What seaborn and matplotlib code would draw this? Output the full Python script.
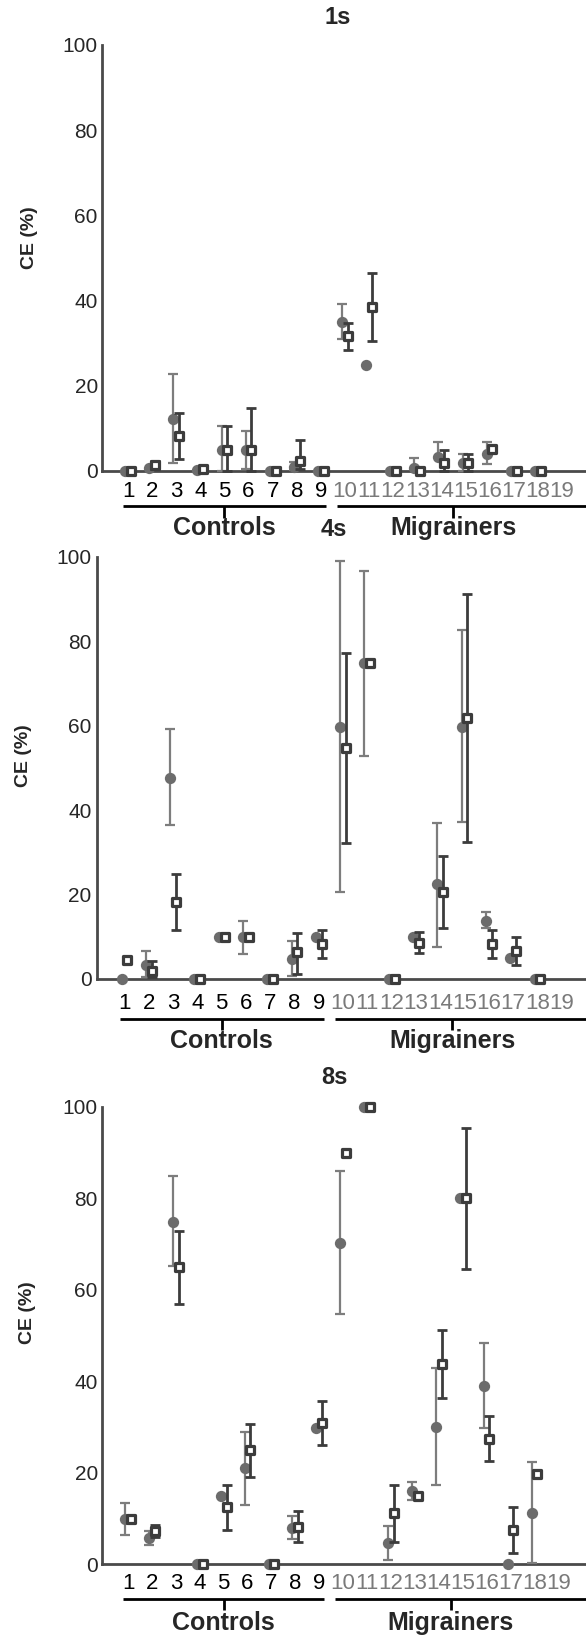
import numpy as np
import pandas as pd
import matplotlib
matplotlib.use("Agg")
import matplotlib.pyplot as plt
import matplotlib.transforms as mtransforms
import seaborn as sns

nan = np.nan

# ---------------- data ----------------
subjects = list(range(1, 20))
tick_labels = [str(s) for s in subjects]
groups = ["Controls", "Migrainers"]
titles = ["1s", "4s", "8s"]
y_ticks = [0, 20, 40, 60, 80, 100]

# 1s
c1 = [0, 0.6, 12.2, 0.3, 4.9, 5.0, 0, 0.9, 0, 34.9, 24.9, 0, 0.6, 3.4, 1.8, 4.1, 0, 0, nan]
c1_lo = [nan, nan, 1.8, nan, 0, 0.5, nan, 0.2, nan, 31.0, nan, nan, 0.6, 3.4, 0, 1.6, nan, nan, nan]
c1_hi = [nan, nan, 22.8, nan, 10.6, 9.5, nan, 2.2, nan, 39.2, nan, nan, 3.0, 6.8, 4.1, 6.7, nan, nan, nan]
s1 = [0, 1.5, 8.2, 0.4, 5.0, 5.0, 0, 2.4, 0, 31.8, 38.4, 0, 0, 1.8, 1.8, 5.1, 0, 0, nan]
s1_lo = [nan, 0.5, 2.9, nan, 0, 0, nan, 0.5, nan, 28.4, 30.5, nan, nan, 0, 0, nan, nan, nan, nan]
s1_hi = [nan, 2.4, 13.5, nan, 10.6, 14.7, nan, 7.2, nan, 34.7, 46.4, nan, nan, 4.9, 4.1, nan, nan, nan, nan]

# 4s
c4 = [0, 3.2, 47.7, 0, 9.9, 9.9, 0, 4.7, 10.0, 59.8, 75.0, 0, 9.9, 22.4, 59.8, 13.8, 4.9, 0, nan]
c4_lo = [nan, 0.5, 36.5, nan, nan, 5.9, nan, 0.7, nan, 20.7, 52.9, nan, nan, 7.7, 37.3, 12.0, nan, nan, nan]
c4_hi = [nan, 6.6, 59.2, nan, nan, 13.8, nan, 9.0, nan, 99.1, 96.7, nan, nan, 37.0, 82.7, 15.9, nan, nan, nan]
s4 = [4.5, 2.0, 18.2, 0, 9.9, 9.9, 0, 6.3, 8.2, 54.8, 75.0, 0, 8.6, 20.7, 61.9, 8.3, 6.6, 0, nan]
s4_lo = [nan, 0.5, 11.6, nan, nan, nan, nan, 1.3, 4.9, 32.3, nan, nan, 6.2, 12.2, 32.4, 5.0, 3.3, nan, nan]
s4_hi = [nan, 4.3, 24.8, nan, nan, nan, nan, 11.0, 11.6, 77.3, nan, nan, 11.2, 29.2, 91.2, 11.6, 9.9, nan, nan]

# 8s
c8 = [9.8, 5.6, 74.9, 0, 14.9, 20.9, 0, 7.9, 29.8, 70.3, 100, 4.7, 16.0, 29.9, 80.0, 39.0, 0, 11.2, nan]
c8_lo = [6.3, 4.2, 65.3, nan, nan, 12.9, nan, 5.4, nan, 54.7, nan, 0.9, 13.9, 17.3, nan, 29.8, nan, 0.3, nan]
c8_hi = [13.4, 7.3, 84.8, nan, nan, 28.8, nan, 10.4, nan, 86.1, nan, 8.4, 17.9, 42.8, nan, 48.3, nan, 22.3, nan]
s8 = [9.8, 7.2, 64.9, 0, 12.4, 24.9, 0, 8.2, 30.8, 90.0, 100, 11.2, 14.9, 43.7, 80.0, 27.4, 7.4, 19.8, nan]
s8_lo = [nan, 6.0, 56.9, nan, 7.4, 19.1, nan, 4.9, 26.0, nan, nan, 4.9, nan, 36.3, 64.5, 22.5, 2.5, nan, nan]
s8_hi = [nan, 8.5, 72.9, nan, 17.3, 30.6, nan, 11.6, 35.7, nan, nan, 17.3, nan, 51.1, 95.3, 32.4, 12.4, nan, nan]

panels_data = [
    (c1, c1_lo, c1_hi, s1, s1_lo, s1_hi),
    (c4, c4_lo, c4_hi, s4, s4_lo, s4_hi),
    (c8, c8_lo, c8_hi, s8, s8_lo, s8_hi),
]

# ---------------- style ----------------
sns.set_style("white")
plt.rcParams["font.family"] = ["Liberation Sans", "DejaVu Sans"]

CIRC = "#6c6c6c"
CIRC_ERR = "#7d7d7d"
SQ = "#3c3c3c"
SPINE = "#4a4a4a"

W, H = 586, 1638
fig = plt.figure(figsize=(W / 100, H / 100), dpi=100)

layout = [
    dict(left=102, top=45, bottom=471, xlim=(-0.08, 20.0), xpad=7, ypad=3,
         ylab=(29, 238), title=(338, 18), brk=(35, 47, 57)),
    dict(left=97, top=557, bottom=979, xlim=(-0.13, 20.0), xpad=10, ypad=4,
         ylab=(23, 756), title=(334, 529), brk=(40, 51, 62)),
    dict(left=102, top=1107, bottom=1564, xlim=(-0.09, 20.16), xpad=6.5, ypad=3,
         ylab=(27, 1313), title=(334, 1077), brk=(35, 46, 59)),
]

OFF = 0.12
x = np.array(subjects, dtype=float)

for (cm, clo, chi, sm, slo, shi), L, title in zip(panels_data, layout, titles):
    hpx = L["bottom"] - L["top"]
    ax = fig.add_axes([L["left"] / W, 1 - L["bottom"] / H, (W - L["left"]) / W, hpx / H])
    cm, clo, chi = map(np.array, (cm, clo, chi))
    sm, slo, shi = map(np.array, (sm, slo, shi))

    m = ~np.isnan(clo)
    ax.errorbar(x[m] - OFF, cm[m], yerr=[cm[m] - clo[m], chi[m] - cm[m]], fmt="none",
                ecolor=CIRC_ERR, elinewidth=1.6, capsize=3.3, capthick=1.6, zorder=3, clip_on=False)
    df_c = pd.DataFrame({"x": x - OFF, "y": cm}).dropna()
    sns.scatterplot(data=df_c, x="x", y="y", ax=ax, marker="o", s=66, color=CIRC,
                    edgecolor=CIRC, linewidth=0, zorder=4, clip_on=False)

    m = ~np.isnan(slo)
    ax.errorbar(x[m] + OFF, sm[m], yerr=[sm[m] - slo[m], shi[m] - sm[m]], fmt="none",
                ecolor=SQ, elinewidth=2.0, capsize=3.3, capthick=2.0, zorder=5, clip_on=False)
    df_s = pd.DataFrame({"x": x + OFF, "y": sm}).dropna()
    sns.scatterplot(data=df_s, x="x", y="y", ax=ax, marker="s", s=34, color="white",
                    edgecolor=SQ, linewidth=2.3, zorder=6, clip_on=False)

    ax.set_xlim(*L["xlim"])
    ax.set_ylim(0, 100)
    ax.set_xlabel("")
    ax.set_ylabel("")
    ax.set_yticks(y_ticks)
    ax.set_yticklabels([str(v) for v in y_ticks], fontsize=15)
    ax.set_xticks(subjects)
    ax.set_xticklabels(tick_labels, fontsize=16)
    for lbl, s in zip(ax.get_xticklabels(), subjects):
        lbl.set_color("black" if s < 10 else "#7a7a7a")
    ax.tick_params(axis="x", length=0, pad=L["xpad"])
    ax.tick_params(axis="y", length=0, pad=L["ypad"])
    for side in ("top", "right"):
        ax.spines[side].set_visible(False)
    for side in ("left", "bottom"):
        ax.spines[side].set_color(SPINE)
        ax.spines[side].set_linewidth(2.0)

    trans = mtransforms.blended_transform_factory(ax.transData, ax.transAxes)
    yb = -L["brk"][0] / hpx
    yt = -L["brk"][1] / hpx
    ytxt = -L["brk"][2] / hpx
    for (x0, x1, xc), g in zip([(0.8, 9.2, 5.0), (9.65, 20.6, 14.5)], groups):
        ax.plot([x0, x1], [yb, yb], color="black", lw=2.0, transform=trans, clip_on=False,
                solid_capstyle="butt")
        ax.plot([xc, xc], [yb, yt], color="black", lw=2.0, transform=trans, clip_on=False,
                solid_capstyle="butt")
        ax.text(xc, ytxt, g, transform=trans, ha="center", va="center",
                fontsize=18, fontweight="bold")

    fig.text(L["ylab"][0] / W, 1 - L["ylab"][1] / H, "CE (%)", rotation=90,
             ha="center", va="center", fontsize=14, fontweight="bold")
    fig.text(L["title"][0] / W, 1 - L["title"][1] / H, title, ha="center", va="center",
             fontsize=17, fontweight="bold")

fig.savefig("out.png", dpi=100)
